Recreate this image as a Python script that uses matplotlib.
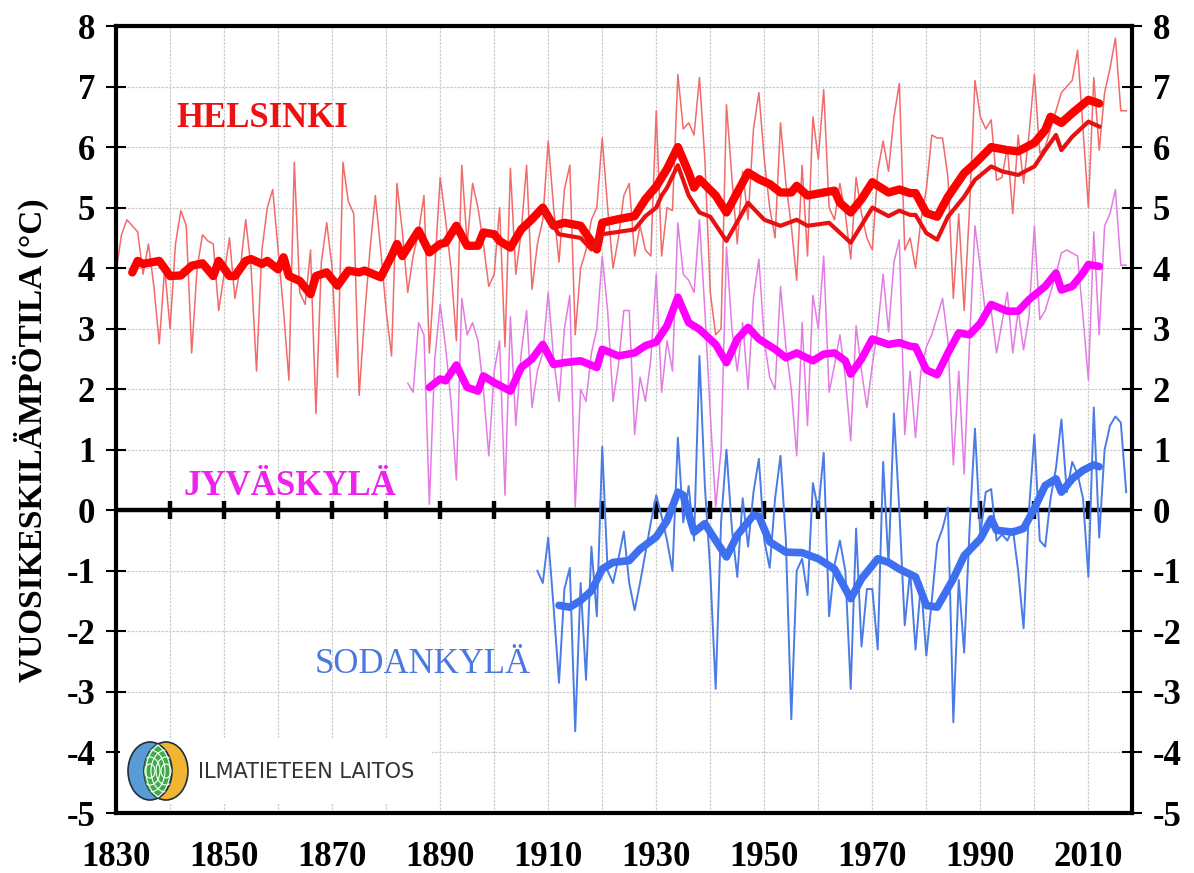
import matplotlib
matplotlib.use("Agg")
import matplotlib.pyplot as plt
from matplotlib.patches import Ellipse, Rectangle

plt.rcParams["axes.unicode_minus"] = False

# --- annual means (thin lines) ---
hel_years = list(range(1830, 2018))
hel_temp = [
    3.95, 4.55, 4.8, 4.7, 4.6, 3.9, 4.4, 3.7, 2.75, 4.0,      # 1830s
    3.0, 4.4, 4.95, 4.7, 2.6, 4.0, 4.55, 4.45, 4.4, 3.3,      # 1840s
    3.9, 4.5, 3.5, 4.0, 4.8, 4.0, 2.3, 4.3, 5.0, 5.3,         # 1850s
    4.3, 3.3, 2.15, 5.75, 3.6, 3.4, 4.3, 1.6, 4.1, 4.75,      # 1860s
    4.0, 2.2, 5.75, 5.1, 4.9, 1.9, 3.2, 4.3, 5.2, 4.3,        # 1870s
    3.3, 2.55, 5.4, 4.6, 3.6, 4.2, 4.6, 5.2, 2.6, 4.0,        # 1880s
    5.5, 4.8, 4.0, 2.8, 5.7, 4.4, 5.4, 5.0, 4.4, 3.7,         # 1890s
    3.9, 5.0, 2.7, 5.65, 3.9, 4.6, 5.7, 3.65, 4.4, 4.8,       # 1900s
    6.1, 5.0, 4.1, 5.3, 5.7, 2.9, 4.0, 4.3, 4.8, 5.0,         # 1910s
    6.15, 5.0, 4.0, 4.5, 5.2, 5.4, 4.2, 4.7, 4.3, 4.2,        # 1920s
    6.6, 4.2, 5.0, 4.95, 7.2, 6.3, 6.4, 6.2, 7.15, 5.8,       # 1930s
    3.6, 2.9, 3.0, 6.7, 5.5, 4.4, 5.6, 4.8, 6.3, 6.9,         # 1940s
    5.8, 5.0, 4.5, 6.4, 5.4, 4.7, 3.8, 5.7, 4.2, 6.5,         # 1950s
    5.8, 6.95, 5.0, 4.8, 5.4, 4.9, 4.15, 5.5, 4.9, 4.5,       # 1960s
    4.3, 5.6, 6.1, 5.6, 6.5, 7.05, 4.3, 4.5, 4.0, 4.8,        # 1970s
    5.3, 6.2, 6.15, 6.15, 5.5, 3.5, 4.9, 3.3, 5.0, 7.1,       # 1980s
    6.5, 6.3, 6.45, 5.45, 5.5, 6.0, 4.9, 6.2, 5.4, 6.2,       # 1990s
    7.2, 5.9, 6.0, 6.3, 6.6, 6.9, 7.0, 7.1, 7.6, 6.3,         # 2000s
    5.0, 7.15, 5.95, 6.9, 7.3, 7.8, 6.6, 6.6,                 # 2010s
]

jyv_years = list(range(1884, 2018))
jyv_temp = [
    2.1, 1.95, 3.1, 2.9, 0.1, 2.5,                            # 1884-1889
    3.4, 2.7, 1.8, 0.5, 3.5, 2.9, 3.1, 2.8, 2.0, 0.9,         # 1890s
    2.3, 2.8, 0.25, 3.2, 1.4, 2.6, 3.3, 1.7, 2.3, 2.6,        # 1900s
    3.6, 2.5, 1.8, 3.0, 3.55, 0.05, 2.0, 1.8, 2.6, 3.0,       # 1910s
    4.2, 3.3, 1.8, 2.4, 3.3, 3.3, 1.25, 2.2, 1.8, 2.5,        # 1920s
    3.9, 1.95, 2.8, 2.3, 4.75, 3.9, 3.8, 3.6, 4.8, 3.3,       # 1930s
    1.6, 0.05, 1.0, 4.35, 3.0, 2.3, 3.1, 2.0, 3.5, 4.15,      # 1940s
    2.8, 2.2, 2.0, 3.7, 2.7, 2.0, 0.9, 3.1, 1.4, 3.55,        # 1950s
    3.0, 4.2, 1.95, 2.4, 2.9, 2.2, 1.15, 3.05, 2.3, 1.7,      # 1960s
    2.4, 3.0, 3.9, 2.95, 4.1, 4.47, 1.25, 2.3, 1.2, 2.3,      # 1970s
    2.7, 2.9, 3.2, 3.5, 2.8, 0.75, 2.3, 0.6, 2.8, 4.7,        # 1980s
    4.0, 3.2, 3.3, 2.6, 3.1, 3.6, 2.6, 3.3, 2.65, 3.2,        # 1990s
    4.7, 3.15, 3.3, 3.6, 3.9, 4.25, 4.3, 4.25, 4.2, 3.2,      # 2000s
    2.15, 4.6, 2.9, 4.7, 4.9, 5.3, 4.05, 4.05,                # 2010s
]

sod_years = list(range(1908, 2018))
sod_temp = [
    -1.0, -1.2,                                                     # 1908-1909
    -0.45, -1.6, -2.85, -1.3, -0.95, -3.65, -1.2, -2.8, -0.6, -1.75,  # 1910s
    1.05, -1.0, -1.2, -0.8, -0.35, -1.2, -1.65, -1.2, -0.7, -0.2,   # 1920s
    0.25, -0.1, -0.5, -1.0, 1.2, -0.2, 0.4, -0.5, 2.55, 0.4,        # 1930s
    -1.0, -2.95, -0.2, 1.0, -0.3, -1.1, 0.2, -0.6, 0.3, 0.85,       # 1940s
    -0.5, -0.95, 0.2, 0.9, -0.5, -3.45, -1.0, -0.8, -1.4, 0.45,     # 1950s
    0.0, 0.95, -1.75, -0.9, -0.5, -1.0, -2.95, -0.3, -2.25, -1.3,   # 1960s
    -1.3, -2.3, 0.8, -0.9, 1.6, 0.0, -1.9, -1.0, -2.3, -1.2,        # 1970s
    -2.4, -1.5, -0.55, -0.3, 0.05, -3.5, -1.15, -2.35, -0.3, 1.35,  # 1980s
    -0.4, 0.3, 0.35, -0.5, -0.4, -0.5, -0.3, -1.0, -1.95, 0.0,      # 1990s
    1.25, -0.5, -0.6, 0.2, 0.7, 1.5, 0.3, 0.8, 0.6, 0.2,            # 2000s
    -1.1, 1.7, -0.45, 1.0, 1.4, 1.55, 1.45, 0.3,                    # 2010s
]

# --- smoothed curves (thick lines) ---
hel_ma_years = [1833, 1834, 1835, 1838, 1840, 1842, 1844, 1846, 1848, 1849, 1851, 1852,
                1854, 1855, 1857, 1858, 1860, 1861, 1862, 1864, 1866, 1867, 1869, 1871,
                1873, 1875, 1876, 1879, 1881, 1882, 1883, 1886, 1888, 1890, 1891, 1893,
                1895, 1897, 1898, 1900, 1901, 1903, 1905, 1907, 1909, 1911, 1913, 1916,
                1919, 1920, 1923, 1926, 1928, 1930, 1932, 1934, 1936, 1937, 1938, 1941,
                1943, 1945, 1947, 1949, 1951, 1953, 1955, 1956, 1958, 1961, 1963, 1964,
                1966, 1968, 1970, 1973, 1975, 1977, 1978, 1980, 1982, 1984, 1987, 1989,
                1992, 1995, 1997, 2000, 2002, 2003, 2005, 2007, 2010, 2012]
hel_ma = [3.93, 4.12, 4.07, 4.12, 3.87, 3.88, 4.04, 4.08, 3.87, 4.12, 3.87, 3.87,
          4.12, 4.15, 4.07, 4.12, 3.98, 4.18, 3.87, 3.79, 3.57, 3.87, 3.93, 3.71,
          3.96, 3.93, 3.96, 3.85, 4.2, 4.4, 4.2, 4.62, 4.26, 4.4, 4.42, 4.7,
          4.37, 4.37, 4.59, 4.56, 4.45, 4.34, 4.64, 4.81, 5.0, 4.7, 4.75, 4.7,
          4.31, 4.75, 4.81, 4.86, 5.14, 5.35, 5.64, 6.0, 5.58, 5.33, 5.47, 5.2,
          4.92, 5.25, 5.58, 5.47, 5.39, 5.25, 5.25, 5.36, 5.2, 5.25, 5.28, 5.08,
          4.92, 5.14, 5.42, 5.25, 5.3, 5.24, 5.24, 4.91, 4.85, 5.18, 5.57, 5.73,
          6.0, 5.95, 5.93, 6.07, 6.28, 6.5, 6.4, 6.56, 6.78, 6.72]

hel2_ma_years = [1909, 1912, 1916, 1918, 1920, 1923, 1926, 1928, 1930, 1931, 1932, 1934,
                 1936, 1938, 1940, 1943, 1947, 1950, 1953, 1956, 1958, 1962, 1966, 1970,
                 1973, 1975, 1977, 1978, 1980, 1982, 1984, 1987, 1989, 1992, 1994, 1997,
                 2000, 2002, 2004, 2005, 2007, 2010, 2012]
hel2_ma = [4.95, 4.56, 4.5, 4.31, 4.56, 4.6, 4.64, 4.86, 5.0, 5.2, 5.33, 5.7,
           5.2, 4.92, 4.85, 4.45, 5.08, 4.8, 4.7, 4.8, 4.7, 4.75, 4.42, 5.0,
           4.86, 4.95, 4.88, 4.88, 4.58, 4.47, 4.85, 5.18, 5.46, 5.68, 5.6, 5.54,
           5.68, 5.95, 6.2, 5.95, 6.17, 6.42, 6.34]

jyv_ma_years = [1888, 1890, 1891, 1893, 1895, 1897, 1898, 1900, 1903, 1905, 1907, 1909,
                1911, 1913, 1916, 1919, 1920, 1923, 1926, 1928, 1930, 1932, 1934, 1936,
                1938, 1941, 1943, 1945, 1947, 1949, 1952, 1954, 1956, 1959, 1961, 1963,
                1965, 1966, 1968, 1970, 1973, 1975, 1977, 1978, 1980, 1982, 1984, 1986,
                1988, 1990, 1992, 1995, 1997, 1999, 2002, 2004, 2005, 2007, 2009, 2010,
                2012]
jyv_ma = [2.03, 2.17, 2.14, 2.4, 2.03, 1.97, 2.22, 2.11, 1.97, 2.36, 2.5, 2.74,
          2.41, 2.44, 2.47, 2.36, 2.66, 2.55, 2.6, 2.72, 2.78, 3.05, 3.52, 3.1,
          2.99, 2.74, 2.44, 2.83, 3.02, 2.83, 2.66, 2.52, 2.6, 2.47, 2.58, 2.6,
          2.47, 2.25, 2.5, 2.83, 2.74, 2.77, 2.71, 2.7, 2.32, 2.24, 2.6, 2.93,
          2.9, 3.09, 3.4, 3.29, 3.29, 3.48, 3.7, 3.92, 3.64, 3.7, 3.92, 4.06,
          4.03]

sod_ma_years = [1912, 1914, 1916, 1918, 1920, 1922, 1925, 1927, 1930, 1932, 1934, 1935,
                1937, 1939, 1940, 1943, 1945, 1948, 1949, 1951, 1954, 1957, 1960, 1963,
                1966, 1968, 1971, 1973, 1975, 1978, 1980, 1982, 1985, 1987, 1990, 1992,
                1993, 1996, 1998, 2000, 2002, 2004, 2005, 2007, 2009, 2011, 2012]
sod_ma = [-1.57, -1.6, -1.49, -1.33, -0.97, -0.86, -0.83, -0.64, -0.44, -0.17, 0.3, 0.25,
          -0.36, -0.22, -0.36, -0.77, -0.41, -0.08, -0.1, -0.52, -0.69, -0.7, -0.8, -0.97,
          -1.46, -1.13, -0.8, -0.86, -0.97, -1.1, -1.57, -1.6, -1.13, -0.75, -0.47, -0.14,
          -0.33, -0.36, -0.3, 0.03, 0.41, 0.52, 0.3, 0.52, 0.66, 0.75, 0.72]

x_labels = list(range(1830, 2011, 20))
decades = list(range(1840, 2011, 10))

SERIF = ["Liberation Serif", "DejaVu Serif"]

fig = plt.figure(figsize=(11.94, 8.73), dpi=100)
ax = fig.add_axes([0.0972, 0.0687, 0.851, 0.9015])

# thin annual lines
ax.plot(hel_years, hel_temp, color="#f26a6a", lw=1.1, zorder=3)
ax.plot(jyv_years, jyv_temp, color="#e47be4", lw=1.1, zorder=3)
ax.plot(sod_years, sod_temp, color="#4a7be6", lw=1.4, zorder=3)

# smoothed lines
ax.plot(hel_ma_years, hel_ma, color="#ff0000", lw=6, zorder=5, solid_capstyle="round")
ax.plot(hel2_ma_years, hel2_ma, color="#e81010", lw=3, zorder=5)
ax.plot(jyv_ma_years, jyv_ma, color="#ff00ff", lw=5.5, zorder=5, solid_capstyle="round")
ax.plot(sod_ma_years, sod_ma, color="#3d6ff0", lw=5.5, zorder=5, solid_capstyle="round")

# zero line with decade ticks
ax.axhline(0, color="black", lw=3.2, zorder=2.5)
ax.plot(decades, [0] * len(decades), ls="none", marker="|", ms=13, mew=3.2,
        color="black", zorder=2.5)

ax.set_xlim(1830, 2018.1)
ax.set_ylim(-5, 8)
ax.set_xticks(x_labels)
ax.set_xticks(list(range(1840, 2001, 20)), minor=True)
ax.set_yticks(range(-5, 9))
ax.grid(True, which="both", color="#cccccc", lw=0.9, ls=(0, (2, 1)), zorder=0)

ax.tick_params(axis="x", which="both", length=0, pad=20)
ax.tick_params(axis="y", which="both", left=True, right=True, labelleft=True,
               labelright=True, direction="inout", length=14, width=1.5, pad=8)
for lab in ax.get_xticklabels() + ax.get_yticklabels():
    lab.set_fontfamily(SERIF)
    lab.set_fontweight("bold")
    lab.set_fontsize(25)

for sp in ax.spines.values():
    sp.set_linewidth(3)
    sp.set_zorder(6)

fig.text(0.026, 0.496, "VUOSIKESKILÄMPÖTILA (°C)", rotation=90, ha="center",
         va="center", fontsize=24, fontweight="bold", family=SERIF)

# station names
fig.text(0.2194, 0.8648, "HELSINKI", color="#ee1111", fontsize=25,
         fontweight="bold", family=SERIF, ha="center", va="center")
fig.text(0.2429, 0.4422, "JYVÄSKYLÄ", color="#ee22ee", fontsize=25,
         fontweight="bold", family=SERIF, ha="center", va="center")
fig.text(0.3543, 0.2383, "SODANKYLÄ", color="#4a78e0", fontsize=25,
         family=SERIF, ha="center", va="center")

# logo
W, H = 1194.0, 873.0
fig.patches.append(Rectangle((120 / W, 1 - 804 / H), 312 / W, 66 / H,
                             transform=fig.transFigure, facecolor="white",
                             edgecolor="none", zorder=7))
blue = Ellipse((150 / W, 1 - 771 / H), 44 / W, 58 / H, transform=fig.transFigure,
               facecolor="#5b9bd5", edgecolor="#1f2f3f", lw=1.2, zorder=8)
yellow = Ellipse((166 / W, 1 - 771 / H), 44 / W, 58 / H, transform=fig.transFigure,
                 facecolor="#f2b531", edgecolor="#1f2f3f", lw=1.2, zorder=8)
fig.patches.extend([blue, yellow])
green = Ellipse((150 / W, 1 - 771 / H), 44 / W, 58 / H, transform=fig.transFigure,
                facecolor="#3faa48", edgecolor="#1f2f3f", lw=1.2, zorder=9)
fig.patches.append(green)
green.set_clip_path(yellow)
for k in range(1, 5):
    for cx, clip in ((166, blue), (150, yellow)):
        arc = Ellipse((cx / W, 1 - 771 / H), (10 * k) / W, (14 * k) / H,
                      transform=fig.transFigure, facecolor="none",
                      edgecolor="white", lw=0.8, zorder=10)
        fig.patches.append(arc)
        arc.set_clip_path(clip)
fig.text(198 / W, 1 - 772 / H, "ILMATIETEEN LAITOS", color="#333333", fontsize=15,
         family="DejaVu Sans", ha="left", va="center", zorder=11)

fig.savefig("out.png", dpi=100)
